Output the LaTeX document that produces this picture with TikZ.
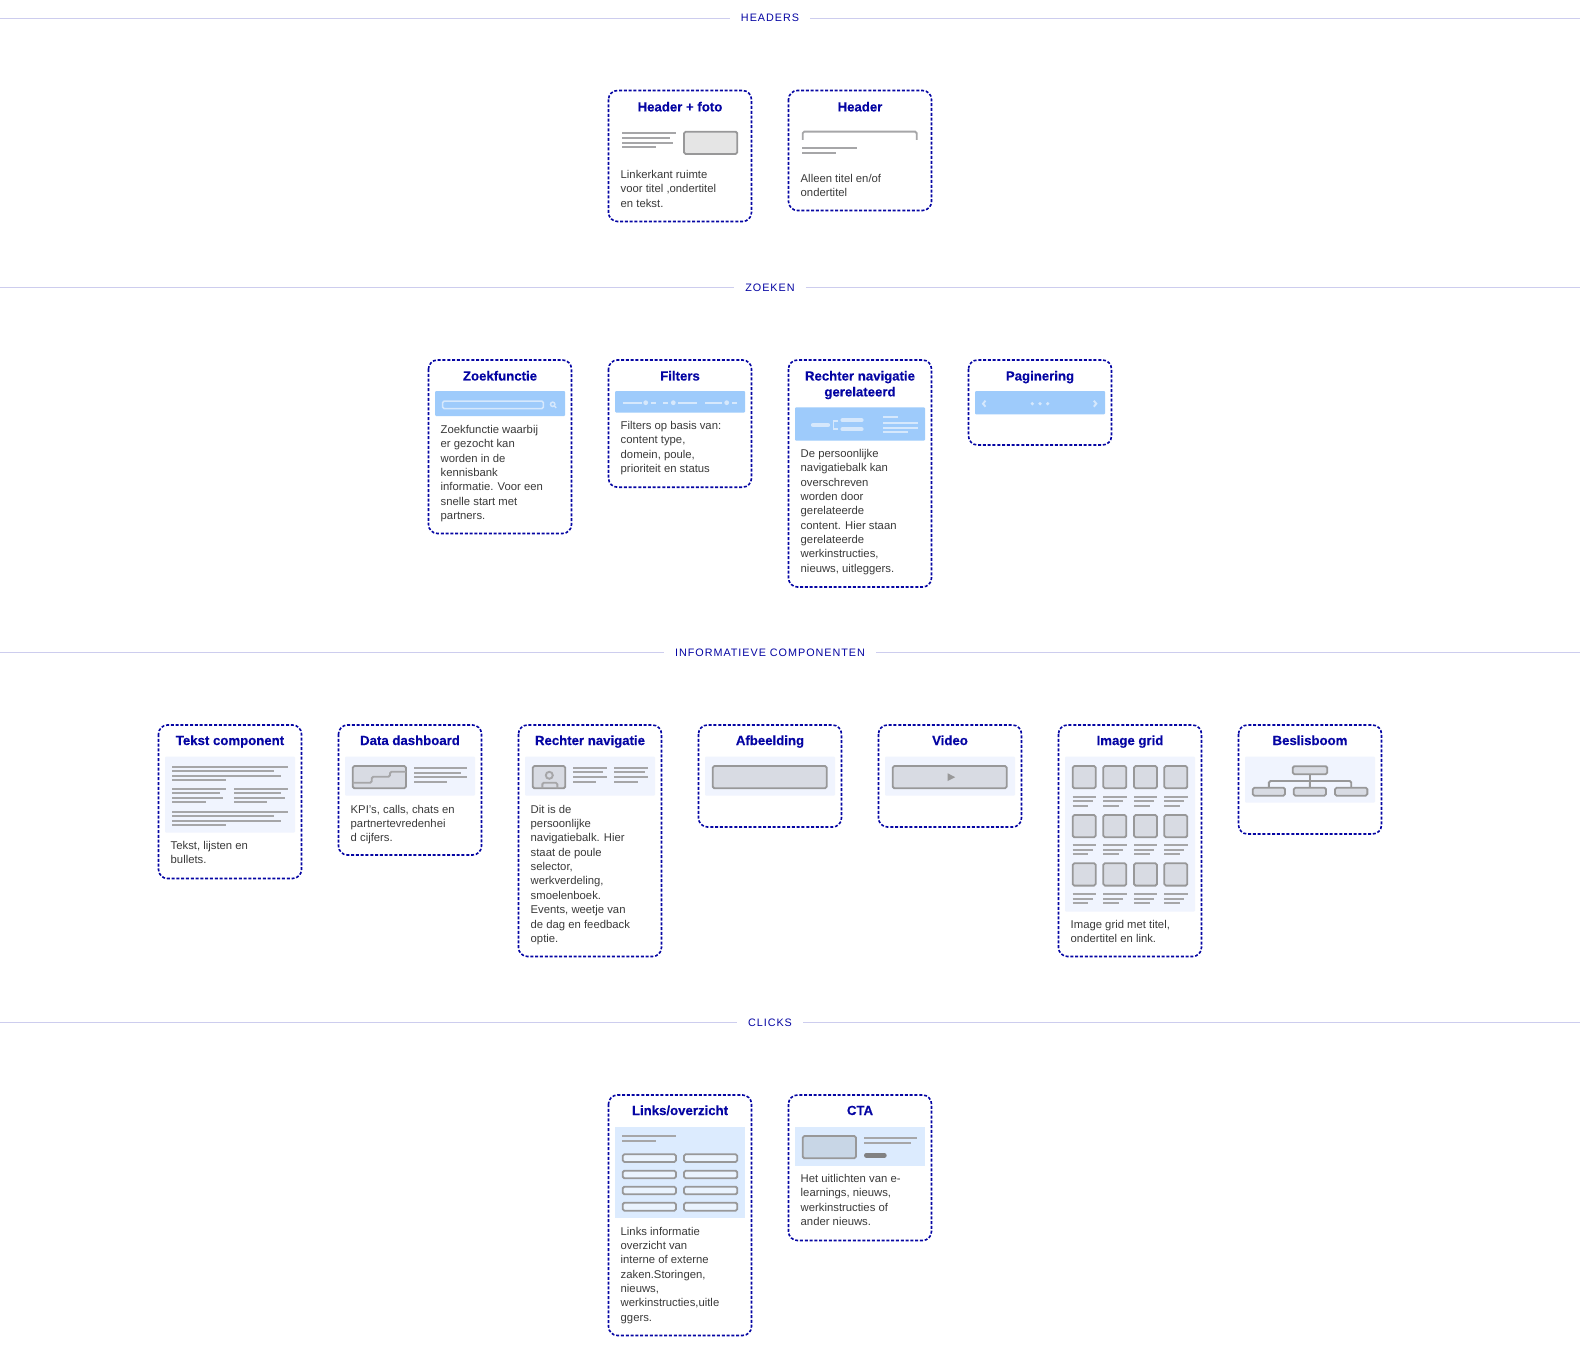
\documentclass[tikz,border=0pt]{standalone}
\usepackage{fontspec}
\setmainfont{Liberation Sans}
\newfontfamily\labelfont[LetterSpace=9]{Liberation Sans}
\newfontfamily\titlefont[FakeBold=0.25]{Liberation Sans Bold}
\definecolor{navy}{HTML}{0505A3}
\definecolor{sepcol}{HTML}{CDCDEE}
\definecolor{bodycol}{HTML}{3A3A3A}
\definecolor{wire}{HTML}{989899}
\definecolor{wirelt}{HTML}{A6A6A8}
\definecolor{wirefill}{HTML}{D8DBE3}
\definecolor{panelblue}{HTML}{9ECBFB}
\definecolor{panellight}{HTML}{F0F4FE}
\definecolor{panelmid}{HTML}{DCEBFE}
\definecolor{onblue}{HTML}{D6E8FC}
\definecolor{ctafill}{HTML}{C8D6E6}
\tikzset{
  sepline/.style={draw=sepcol,line width=0.9pt},
  seplabel/.style={inner xsep=11pt,inner ysep=0pt,text=navy,font=\labelfont\fontsize{10.8}{12}\selectfont},
  cardbox/.style={draw=navy,line width=1.6pt,dash pattern=on 3pt off 1.8pt,rounded corners=9pt},
  cardtitle/.style={anchor=base,inner sep=0pt,text=navy,font=\titlefont\fontsize{13.2}{16}\selectfont},
  cardbody/.style={anchor=north west,inner sep=0pt,align=left,text=bodycol,font=\fontsize{11.3}{14.35}\selectfont},
  wline/.style={draw=wirelt,line width=1.9pt},
  wbox/.style={draw=wire,line width=1.8pt,rounded corners=1.6pt,fill=wirefill},
  wpanel/.style={fill=panellight,rounded corners=1pt},
  bpanel/.style={fill=panelblue,rounded corners=1pt},
  onbl/.style={draw=onblue,line width=1.9pt},
  onpill/.style={draw=onblue,line width=4.2pt,line cap=round},
  treebox/.style={draw=wire,line width=1.8pt,rounded corners=1.6pt,fill=wirefill,inner sep=0pt,minimum height=8pt},
}
\newcommand\sepsec[3]{% id, y, text
  \node[seplabel] (#1) at (770,#2) {#3};
  \coordinate (#1l) at (0,#2);
  \coordinate (#1r) at (1580,#2);
  \draw[sepline] (#1l) -- (#1.west);
  \draw[sepline] (#1.east) -- (#1r);}
\newcommand\cardfr[4]{\draw[cardbox] (#2,#3) rectangle (#2+143,#4);}
\newcommand\ctitle[4]{\node[cardtitle] (#1) at (#2+71.5,#3) {#4};}
\newcommand\cbody[4]{\node[cardbody] (#1) at (#2+12,#3-10) {\rule{0pt}{10pt}#4};}
\newcommand\wln[3]{\draw[wline] (#1,#3) -- (#2,#3);}
\newcommand\wrec[4]{\draw[wbox] (#1,#2) rectangle (#3,#4);}
\newcommand\panel[4]{\fill[#1] (#2,#3) rectangle (#2+130,#4);}
\begin{document}
\begin{tikzpicture}[x=1pt,y=-1pt]
\useasboundingbox (0,0) rectangle (1580,1372);
\fill[white] (0,0) rectangle (1580,1372);
% separators
\sepsec{sa}{18}{HEADERS}
\sepsec{sb}{287.5}{ZOEKEN}
\sepsec{sc}{652.5}{INFORMATIEVE COMPONENTEN}
\sepsec{sd}{1022.5}{CLICKS}

% ---- Header + foto
\cardfr{}{608.5}{90.5}{221.5}
\ctitle{t1}{608.5}{111.4}{Header + foto}
\wln{622.3}{676}{133.3}\wln{622.3}{670}{138}\wln{622.3}{673.3}{142.7}\wln{622.3}{655.7}{147.3}
\draw[wbox,fill=black!10] (684,131.7) rectangle (737.3,154);
\cbody{b1}{608.5}{178.2}{Linkerkant ruimte\\voor titel ,ondertitel\\en tekst.}
% ---- Header
\cardfr{}{788.5}{90.5}{210.5}
\ctitle{t2}{788.5}{111.4}{Header}
\draw[wline,rounded corners=1.5pt] (802.7,140) -- (802.7,131.7) -- (916.7,131.7) -- (916.7,140);
\wln{802.3}{856.7}{148.3}\wln{802.3}{835.7}{152.7}
\cbody{b2}{788.5}{182.3}{Alleen titel en/of\\ondertitel}

% ---- Zoekfunctie
\cardfr{}{428.5}{360}{533.5}
\ctitle{t3}{428.5}{380.5}{Zoekfunctie}
\panel{bpanel}{435}{391}{416}
\draw[onbl,line width=1.5pt,rounded corners=1.5pt] (442.7,401) rectangle (543.3,408.7);
\draw[onbl,line width=1.5pt] (552.7,404.3) circle[radius=2.2pt] (554.4,406) -- (556.2,407.8);
\cbody{b3}{428.5}{433.3}{Zoekfunctie waarbij\\er gezocht kan\\worden in de\\kennisbank\\informatie. Voor een\\snelle start met\\partners.}
% ---- Filters
\cardfr{}{608.5}{360}{487.2}
\ctitle{t4}{608.5}{380.5}{Filters}
\panel{bpanel}{615}{391}{412.5}
\draw[onbl] (622.7,402.7) -- (641.7,402.7) (650.7,402.7) -- (655.7,402.7)
  (663.3,402.7) -- (668.3,402.7) (678.3,402.7) -- (696.7,402.7)
  (705,402.7) -- (721.7,402.7) (732.3,402.7) -- (737.3,402.7);
\fill[onblue] (645.7,402.7) circle[radius=2.4pt] (673.3,402.7) circle[radius=2.4pt] (726.7,402.7) circle[radius=2.4pt];
\cbody{b4}{608.5}{429.4}{Filters op basis van:\\content type,\\domein, poule,\\prioriteit en status}
% ---- Rechter navigatie gerelateerd
\cardfr{}{788.5}{360}{587}
\ctitle{t5}{788.5}{380.5}{Rechter navigatie}
\ctitle{t5b}{788.5}{396.4}{gerelateerd}
\panel{bpanel}{795}{407.3}{440.7}
\draw[onpill] (813,425) -- (828,425) (842.5,420.3) -- (861.5,420.3) (842.5,429.3) -- (861.5,429.3);
\draw[onbl] (838.3,420.7) -- (833.5,420.7) -- (833.5,429.3) -- (838.3,429.3);
\draw[onbl] (883.3,417.3) -- (897.7,417.3) (883.3,423.3) -- (917.7,423.3) (883.3,428) -- (917.7,428) (883.3,432.3) -- (907.7,432.3);
\cbody{b5}{788.5}{457.3}{De persoonlijke\\navigatiebalk kan\\overschreven\\worden door\\gerelateerde\\content. Hier staan\\gerelateerde\\werkinstructies,\\nieuws, uitleggers.}
% ---- Paginering
\cardfr{}{968.5}{360}{445}
\ctitle{t6}{968.5}{380.5}{Paginering}
\panel{bpanel}{975}{391}{414.3}
\draw[onbl] (985.5,400.7) -- (983,403.7) -- (985.5,406.7) (1093.8,400.7) -- (1096.3,403.7) -- (1093.8,406.7);
\fill[onblue] (1032.3,403.7) circle[radius=1.8pt] (1040,403.7) circle[radius=1.8pt] (1047.7,403.7) circle[radius=1.8pt];

% ---- Tekst component
\cardfr{}{158.5}{725}{878.5}
\ctitle{t7}{158.5}{745}{Tekst component}
\panel{wpanel}{165}{756.7}{832.7}
\wln{172.3}{287.7}{766.7}\wln{172.3}{274}{771}\wln{172.3}{281}{775.7}\wln{172.3}{226}{780}
\wln{172.3}{226}{789}\wln{172.3}{220}{793.3}\wln{172.3}{223.3}{797.7}\wln{172.3}{205.7}{802.3}
\wln{234}{287.7}{789}\wln{234}{281}{793.3}\wln{234}{285}{797.7}\wln{234}{266.7}{802.3}
\wln{172.3}{287.7}{811.7}\wln{172.3}{274}{816}\wln{172.3}{281}{820.7}\wln{172.3}{226}{825}
\cbody{b7}{158.5}{849}{Tekst, lijsten en\\bullets.}
% ---- Data dashboard
\cardfr{}{338.5}{725}{855}
\ctitle{t8}{338.5}{745}{Data dashboard}
\panel{wpanel}{345}{756.7}{795.7}
\wrec{352.7}{766}{406}{788.3}
\draw[wline,rounded corners=1.5pt] (352.7,782.7) -- (371.7,782.7) -- (371.7,776.7) -- (390,776.7) -- (390,771.7) -- (406,771.7);
\wln{414}{467.3}{768}\wln{414}{461}{772.7}\wln{414}{467.3}{777.3}\wln{414}{446.7}{781.7}
\cbody{b8}{338.5}{813}{KPI's, calls, chats en\\partnertevredenhei\\d cijfers.}
% ---- Rechter navigatie
\cardfr{}{518.5}{725}{956.5}
\ctitle{t9}{518.5}{745}{Rechter navigatie}
\panel{wpanel}{525}{756.7}{795.7}
\wrec{532.7}{766}{565.3}{788.3}
\draw[wline] (549.3,775.3) circle[radius=3.5pt];
\draw[wline,rounded corners=1.5pt] (542.3,788.3) -- (542.3,782.7) -- (557.3,782.7) -- (557.3,788.3);
\wln{573.3}{606.7}{767.7}\wln{573.3}{603.3}{772.3}\wln{573.3}{606.7}{777}\wln{573.3}{596}{781.7}
\wln{614.3}{647.7}{767.7}\wln{614.3}{645}{772.3}\wln{614.3}{647.7}{777}\wln{614.3}{637.7}{781.7}
\cbody{b9}{518.5}{813}{Dit is de\\persoonlijke\\navigatiebalk. Hier\\staat de poule\\selector,\\werkverdeling,\\smoelenboek.\\Events, weetje van\\de dag en feedback\\optie.}
% ---- Afbeelding
\cardfr{}{698.5}{725}{827}
\ctitle{t10}{698.5}{745}{Afbeelding}
\panel{wpanel}{705}{756.7}{795.7}
\wrec{712.7}{766}{826.7}{788.3}
% ---- Video
\cardfr{}{878.5}{725}{827}
\ctitle{t11}{878.5}{745}{Video}
\panel{wpanel}{885}{756.7}{795.7}
\wrec{892.7}{766}{1006.7}{788.3}
\fill[wire] (947.7,773.3) -- (955.2,777.2) -- (947.7,781) -- cycle;
% ---- Image grid
\cardfr{}{1058.5}{725}{956.5}
\ctitle{t12}{1058.5}{745}{Image grid}
\panel{wpanel}{1065}{756.7}{911.7}
\foreach \xa in {1072.7,1103.3,1134,1164.3}{
  \foreach \ya/\la/\lb/\lc in {766/796.7/801/805.7,815/845/850/854.3,863.3/894/899/903.3}{
    \draw[wbox] (\xa,\ya) rectangle ++(23,22.3);
    \draw[wline] (\xa,\la) -- ++(23.3,0);
    \draw[wline] (\xa,\lb) -- ++(20,0);
    \draw[wline] (\xa,\lc) -- ++(15.7,0);
  }
}
\cbody{b12}{1058.5}{928.3}{Image grid met titel,\\ondertitel en link.}
% ---- Beslisboom
\cardfr{}{1238.5}{725}{834}
\ctitle{t13}{1238.5}{745}{Beslisboom}
\panel{wpanel}{1245}{756.7}{802.7}
\node[treebox,minimum width=34.6pt] (troot) at (1310,770.2) {};
\node[treebox,minimum width=32.3pt] (ta) at (1268.9,791.7) {};
\node[treebox,minimum width=32.3pt] (tb) at (1309.9,791.7) {};
\node[treebox,minimum width=32.3pt] (tc) at (1351.2,791.7) {};
\draw[wline,draw=wire] (troot.south) -- (tb.north);
\draw[wline,draw=wire,rounded corners=1.5pt] (ta.north) |- (1310,781) -| (tc.north);

% ---- Links/overzicht
\cardfr{}{608.5}{1095}{1335.5}
\ctitle{t14}{608.5}{1115}{Links/overzicht}
\panel{panelmid}{615}{1126.7}{1218.3}
\wln{622.3}{676}{1136}\wln{622.3}{655.7}{1140.7}
\foreach \ya/\yb in {1154.3/1162,1170.7/1178.3,1186.7/1194.3,1202.7/1210.7}{
  \draw[wbox,fill=panelmid!60!white] (622.7,\ya) rectangle (676,\yb);
  \draw[wbox,fill=panelmid!60!white] (684,\ya) rectangle (737.3,\yb);
}
\cbody{b14}{608.5}{1235}{Links informatie\\overzicht van\\interne of externe\\zaken.Storingen,\\nieuws,\\werkinstructies,uitle\\ggers.}
% ---- CTA
\cardfr{}{788.5}{1095}{1240.5}
\ctitle{t15}{788.5}{1115}{CTA}
\panel{panelmid}{795}{1126.7}{1165.7}
\draw[wbox,fill=ctafill] (802.7,1136) rectangle (856,1158.3);
\wln{864}{917.3}{1138}\wln{864}{911}{1142.7}
\draw[draw=wire!85!black,line width=4.6pt,line cap=round] (866.3,1155.3) -- (884.4,1155.3);
\cbody{b15}{788.5}{1182.3}{Het uitlichten van e-\\learnings, nieuws,\\werkinstructies of\\ander nieuws.}
\end{tikzpicture}
\end{document}
